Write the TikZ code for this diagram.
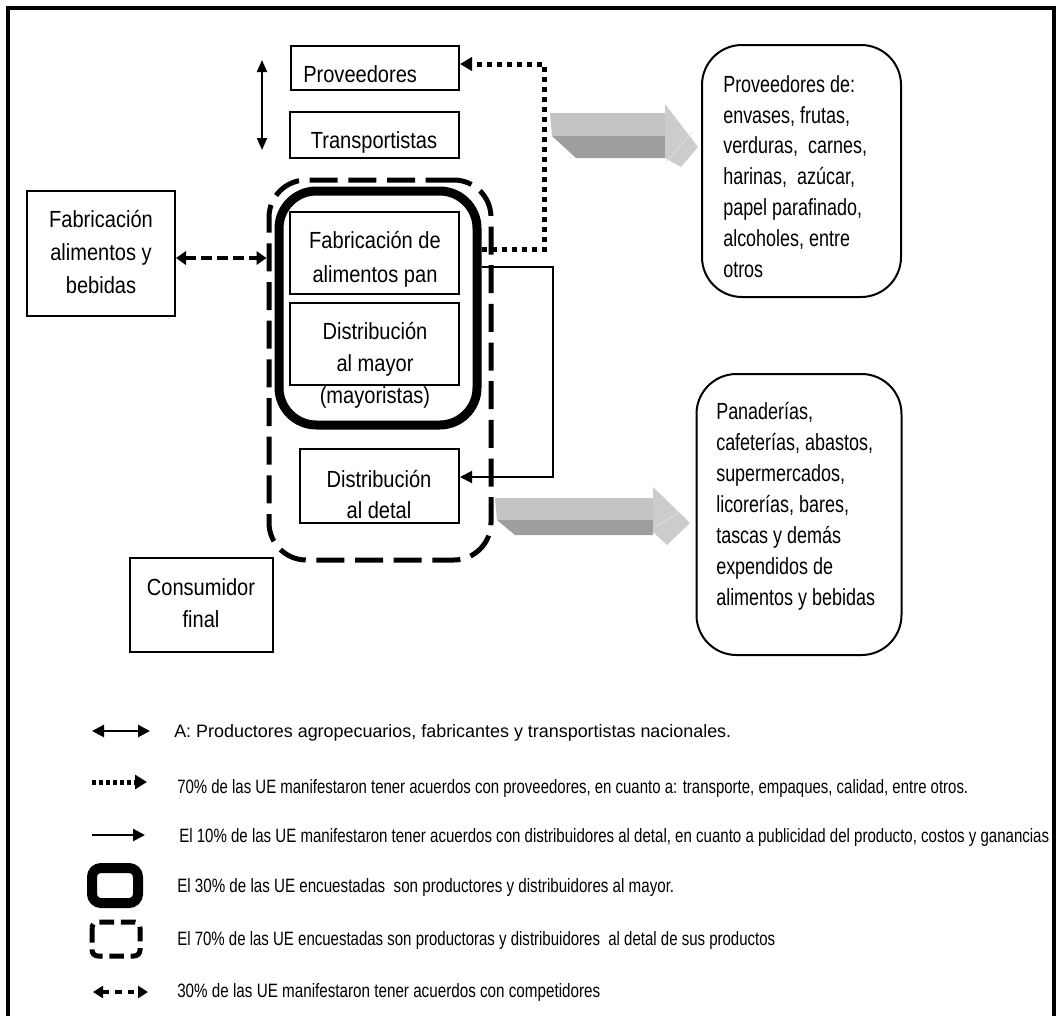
\documentclass[tikz,border=0pt]{standalone}
\usepackage{fontspec}
\setmainfont{Liberation Sans}
\newfontfamily\lab{Liberation Sans}[FakeStretch=0.86]
\newfontfamily\labr{Liberation Sans}[FakeStretch=0.77]
\usetikzlibrary{arrows.meta}
\newcommand\lgd[2]{\resizebox{#1}{\height}{#2}}
\begin{document}
\begin{tikzpicture}[x=0.75pt,y=-0.75pt,
  box/.style={draw,line width=1.5pt,inner sep=0pt},
  rbox/.style={draw,line width=1.5pt,inner sep=0pt,rounded corners=30pt},
  lbl/.style={inner sep=0pt,align=center,anchor=base},
  rlbl/.style={inner sep=0pt,align=left,anchor=base west},
  legt/.style={inner sep=0pt,anchor=base west,font=\fontsize{14.5}{17}\selectfont},
  dotline/.style={line width=3.75pt,dash pattern=on 3.75pt off 3.75pt},
  topface/.style={fill=black!23},
  frontface/.style={fill=black!38},
  headface/.style={fill=black!20}]
\useasboundingbox (0,0) rectangle (1057,1015);
% frame
\draw[line width=3.4pt] (8,1020) -- (8,8) -- (1054,8) -- (1054,1020);

% gray block arrows
\fill[topface] (550,113) -- (665,113) -- (665,136) -- (552,136) -- cycle;
\fill[frontface] (552,136) -- (665,136) -- (665,158) -- (576,158) -- cycle;
\fill[headface] (665,104) -- (698,147) -- (681,167) -- (665,158) -- cycle;
\draw[black!12,line width=0.6pt] (666,162) -- (692,132);
\fill[topface] (495,498) -- (653,498) -- (653,520) -- (497,520) -- cycle;
\fill[frontface] (497,520) -- (653,520) -- (653,535) -- (515,535) -- cycle;
\fill[headface] (653,487) -- (690,523) -- (667,545) -- (653,532) -- cycle;
\draw[black!12,line width=0.6pt] (655,527) -- (680,512);

% grouping frames
\node[draw,inner sep=0pt,line width=3.75pt,dash pattern=on 21pt off 8pt,rounded corners=28pt,
      minimum width=166.5pt,minimum height=285pt] (det) at (380,370) {};
\node[draw,inner sep=0pt,line width=6.75pt,rounded corners=28pt,
      minimum width=148.5pt,minimum height=175.5pt] (may) at (378,308) {};

% boxes
\node[box,minimum width=126pt,minimum height=33pt] (prov) at (375,68) {};
\node[lbl,anchor=base west,font=\lab\fontsize{17.5}{24}\selectfont] (provt) at (303,82) {Proveedores};
\node[box,minimum width=126.75pt,minimum height=34.5pt] (trans) at (374.5,135) {};
\node[lbl,font=\lab\fontsize{17.5}{24}\selectfont] (transt) at (374,148) {Transportistas};
\node[box,minimum width=111pt,minimum height=93.75pt] (fab) at (101,253.5) {};
\node[lbl,font=\lab\fontsize{17.5}{24.75}\selectfont] (fabt) at (101,293) {Fabricación\\alimentos y\\bebidas};
\node[box,minimum width=126.75pt,minimum height=61.5pt] (pan) at (374.5,253) {};
\node[lbl,font=\lab\fontsize{17.5}{25.5}\selectfont] (pant) at (375,282) {Fabricación de\\alimentos pan};
\node[box,minimum width=126.75pt,minimum height=61.5pt] (mayb) at (374.5,344) {};
\node[lbl,font=\lab\fontsize{17.5}{24}\selectfont] (mayt) at (375,403) {Distribución\\al mayor\\(mayoristas)};
\node[box,minimum width=119.25pt,minimum height=55.5pt] (detal) at (379.5,486) {};
\node[lbl,font=\lab\fontsize{17.5}{23.25}\selectfont] (detalt) at (379,518) {Distribución\\al detal};
\node[box,minimum width=107.25pt,minimum height=70.5pt] (cons) at (201.5,605) {};
\node[lbl,font=\lab\fontsize{17.5}{24}\selectfont] (const) at (201,627) {Consumidor\\final};

% right rounded boxes
\node[rbox,minimum width=149.25pt,minimum height=189pt] (r1) at (801.5,171) {};
\node[rlbl,font=\labr\fontsize{17.5}{23.1}\selectfont] (r1t) at (723,277)
  {Proveedores de:\\envases, frutas,\\verduras,\ \ carnes,\\harinas,\ \ azúcar,\\papel parafinado,\\alcoholes, entre\\otros};
\node[rbox,minimum width=153.75pt,minimum height=210.75pt] (r2) at (799,514.5) {};
\node[rlbl,font=\labr\fontsize{17.5}{23.25}\selectfont] (r2t) at (716,605)
  {Panaderías,\\cafeterías, abastos,\\supermercados,\\licorerías, bares,\\tascas y demás\\expendidos de\\alimentos y bebidas};

% connectors
\coordinate (va1) at (262,60);
\coordinate (va2) at (262,150);
\draw[line width=1.5pt,{Triangle[length=9pt,width=7.5pt]}-{Triangle[length=9pt,width=7.5pt]}] (va1) -- (va2);

\coordinate (fe) at ([yshift=-3.4pt]fab.east);
\draw[line width=3pt,dash pattern=on 8pt off 4pt,{Triangle[length=7.5pt,width=10pt]}-{Triangle[length=7.5pt,width=10pt]}] (fe) -- (fe -| det.west);

\coordinate (ds) at ([yshift=44.25pt]may.east);
\coordinate (db) at (544,64);
\draw[dotline,-{Triangle[length=9pt,width=10pt]}] (ds) -| (db) -- (db -| prov.east);

\coordinate (ss) at ([yshift=30.75pt]may.east);
\coordinate (sb) at (553,477);
\draw[line width=1.5pt,-{Triangle[length=9pt,width=9pt]}] (ss) -| (sb) -- (sb -| detal.east);

% legend symbols
\coordinate (l1a) at (92,731); \coordinate (l1b) at (150,731);
\draw[line width=2pt,{Triangle[length=9pt,width=9pt]}-{Triangle[length=9pt,width=9pt]}] (l1a) -- (l1b);
\coordinate (l2a) at (92,782); \coordinate (l2b) at (147,782);
\draw[line width=3.75pt,dash pattern=on 3pt off 2.25pt,-{Triangle[length=9pt,width=10.5pt]}] (l2a) -- (l2b);
\coordinate (l3a) at (92,835); \coordinate (l3b) at (145,835);
\draw[line width=2pt,-{Triangle[length=9pt,width=9pt]}] (l3a) -- (l3b);
\draw[line width=7.5pt,rounded corners=6.75pt] (92,868) rectangle (138,903);
\draw[line width=3.75pt,dash pattern=on 11pt off 5pt,rounded corners=4.5pt] (92,922) rectangle (140,956);
\coordinate (l6a) at (93,992); \coordinate (l6b) at (148,992);
\draw[line width=3pt,dash pattern=on 5pt off 4.5pt,{Triangle[length=7.5pt,width=9pt]}-{Triangle[length=7.5pt,width=9pt]}] (l6a) -- (l6b);

% legend texts
\node[legt,font=\fontsize{13.5}{16}\selectfont] (t1) at (174,737) {\lgd{417.75pt}{A: Productores agropecuarios, fabricantes y transportistas nacionales.}};
\node[legt] (t2) at (177,793) {\lgd{593.25pt}{70\% de las UE manifestaron tener acuerdos con proveedores, en cuanto a: transporte, empaques, calidad, entre otros.}};
\node[legt] (t3) at (179,842) {\lgd{652.5pt}{El 10\% de las UE manifestaron tener acuerdos con distribuidores al detal, en cuanto a publicidad del producto, costos y ganancias}};
\node[legt] (t4) at (177,892) {\lgd{372.75pt}{El 30\% de las UE encuestadas\ \ son productores y distribuidores al mayor.}};
\node[legt] (t5) at (177,945) {\lgd{448.5pt}{El 70\% de las UE encuestadas son productoras y distribuidores\ \ al detal de sus productos}};
\node[legt] (t6) at (177,997) {\lgd{317.25pt}{30\% de las UE manifestaron tener acuerdos con competidores}};
\end{tikzpicture}
\end{document}
